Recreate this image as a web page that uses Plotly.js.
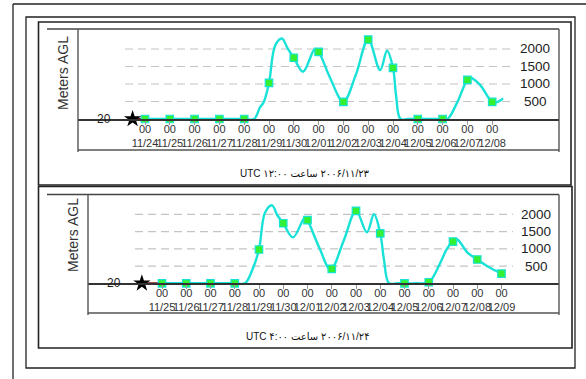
<!DOCTYPE html>
<html><head><meta charset="utf-8">
<script src="https://cdn.plot.ly/plotly-3.0.1.min.js"></script>
<style>html,body{margin:0;padding:0;background:#fff}#chart{width:586px;height:379px}</style>
</head><body><div id="chart"></div>
<script>
// x values: days after 2006-11-24 00 UTC
// Panel 1: run of 2006/11/23 12:00 UTC
const startDay1 = -0.5;
const markerDays1 = [0,1,2,3,4,5,6,7,8,9,10,11,12,13,14];
const markerHeights1 = [0,0,0,0,0,1030,1750,1920,490,2270,1460,0,0,1120,490];
const lineDays1 = [0,1,2,3,4,4.4,4.64,4.78,5,5.25,5.52,5.75,6,6.37,6.85,7,7.46,8,8.5,9,9.48,9.76,10,10.12,10.3,10.6,11,11.5,12,12.2,12.6,13,13.15,13.5,14,14.2,14.44];
const lineHeights1 = [0,0,0,0,0,0,340,470,1030,2100,2300,2020,1750,1350,2000,1920,1180,490,1260,2270,1400,1950,1460,700,0,0,0,0,0,0,490,1120,1170,980,490,480,590];
const dateLabels1 = ['11/24','11/25','11/26','11/27','11/28','11/29','11/30','12/01','12/02','12/03','12/04','12/05','12/06','12/07','12/08'];
const caption1 = '۲۰۰۶/۱۱/۲۳ ساعت ۱۲:۰۰ UTC';

// Panel 2: run of 2006/11/24 04:00 UTC
const startDay2 = 0.17;
const markerDays2 = [1,2,3,4,5,6,7,8,9,10,11,12,13,14,15];
const markerHeights2 = [0,0,0,0,980,1740,1830,420,2100,1450,0,30,1210,690,280];
const lineDays2 = [1,2,3,4,4.42,4.71,5,5.25,5.54,5.75,6,6.4,6.9,7,7.5,7.95,8.5,9,9.45,9.74,10,10.15,10.36,10.7,11,11.5,12,12.46,12.75,13,13.17,13.6,14,14.45,15];
const lineHeights2 = [0,0,0,0,0,365,980,2050,2260,1980,1740,1330,1920,1830,1010,400,1250,2100,1480,2000,1450,700,0,0,0,0,30,570,1000,1210,1270,890,690,480,280];
const dateLabels2 = ['11/25','11/26','11/27','11/28','11/29','11/30','12/01','12/02','12/03','12/04','12/05','12/06','12/07','12/08','12/09'];
const caption2 = '۲۰۰۶/۱۱/۲۴ ساعت ۴:۰۰ UTC';

const yTickVals = [500,1000,1500,2000];
const baseLabel = '20';
const yTitle = 'Meters AGL';

// ---------- layout helpers ----------
const W = 586, H = 379;
const px = x => x / W;
const py = y => 1 - y / H;
const FONT = 'Liberation Sans, Arial, DejaVu Sans, sans-serif';
const LINE = '#18e2d8';

function panelTraces(xa, ya, startDay, mDays, mH, lDays, lH) {
  return [
    {x:[startDay, mDays[0]], y:[0, mH[0]], xaxis:xa, yaxis:ya, mode:'lines',
     line:{color:'#7a1414', width:2}, hoverinfo:'skip', showlegend:false},
    {x:lDays, y:lH, xaxis:xa, yaxis:ya, mode:'lines',
     line:{color:LINE, width:2.4, shape:'spline', smoothing:1}, showlegend:false},
    {x:mDays, y:mH, xaxis:xa, yaxis:ya, mode:'markers', cliponaxis:false,
     marker:{symbol:'square', size:7.5, color:'#33f033', line:{color:LINE, width:1.2}}, showlegend:false},
    {x:[startDay], y:[0], xaxis:xa, yaxis:ya, mode:'markers', cliponaxis:false,
     marker:{symbol:'star', size:13, color:'#000'}, showlegend:false}
  ];
}

const data = [].concat(
  panelTraces('x','y', startDay1, markerDays1, markerHeights1, lineDays1, lineHeights1),
  panelTraces('x2','y2', startDay2, markerDays2, markerHeights2, lineDays2, lineHeights2)
);

function xAxis(domL, domR, zeroDay, pxPerDay, firstPx, days, labels, anchor) {
  const r0 = zeroDay + (domL - firstPx) / pxPerDay;
  const r1 = zeroDay + (domR - firstPx) / pxPerDay;
  return {domain:[px(domL), px(domR)], range:[r0, r1], anchor:anchor,
    tickvals:days, ticktext:labels.map(d => '00<br>' + d), tickangle:0,
    ticks:'outside', ticklen:4, tickcolor:'#999', tickwidth:1, ticklabelstandoff:-5,
    showline:true, linecolor:'#333', linewidth:1.5, showgrid:false, zeroline:false,
    tickfont:{family:FONT, size:11, color:'#333'}, fixedrange:true};
}
function yAxis(top, zero, pxPerUnit, anchor) {
  return {domain:[py(zero), py(top)], range:[0, (zero - top) * pxPerUnit], anchor:anchor,
    showticklabels:false, showgrid:false, zeroline:false, showline:false, ticks:'', fixedrange:true};
}

const shapes = [];
function hline(x0, x1, y, color, width, dash) {
  shapes.push({type:'line', xref:'paper', yref:'paper', x0:px(x0), x1:px(x1), y0:py(y), y1:py(y),
    line:{color:color, width:width, dash:dash||'solid'}, layer:'above'});
}
function vline(x, y0, y1, color, width) {
  shapes.push({type:'line', xref:'paper', yref:'paper', x0:px(x), x1:px(x), y0:py(y0), y1:py(y1),
    line:{color:color, width:width}, layer:'above'});
}
function rect(x0, y0, x1, y1, color, width) {
  shapes.push({type:'rect', xref:'paper', yref:'paper', x0:px(x0), x1:px(x1), y0:py(y0), y1:py(y1),
    line:{color:color, width:width}, fillcolor:'rgba(0,0,0,0)', layer:'above'});
}
// outer frames
hline(13, 586, 4, '#222', 1.3);
vline(13, 4, 379, '#222', 1.3);
rect(26, 17, 575, 368, '#222', 1.3);
rect(38.5, 22, 571, 185, '#222', 1.6);
rect(38.5, 186.5, 572, 348, '#222', 1.6);
// panel 1 plot frame
hline(47, 559, 29, '#444', 1.4);
vline(78, 29, 152, '#555', 1.4);
vline(559, 29, 152, '#555', 1.4);
hline(78, 559, 150, '#555', 1.4);
// panel 2 plot frame
hline(47, 559, 194.5, '#444', 1.4);
vline(88, 194.5, 315, '#555', 1.4);
vline(559, 194.5, 315, '#555', 1.4);
hline(88, 559, 313, '#555', 1.4);

// dashed gridlines at y tick values
function grids(yref, x0, x1) {
  yTickVals.forEach(v => shapes.push({type:'line', xref:'paper', yref:yref, x0:px(x0), x1:px(x1), y0:v, y1:v,
    line:{color:'#c4c4c4', width:1.2, dash:'8px,5px'}, layer:'below'}));
}
grids('y', 125, 513);
grids('y2', 135, 513);

const annotations = [];
function yLabels(yref, xRight, xBase) {
  yTickVals.forEach(v => annotations.push({xref:'paper', yref:yref, x:px(xRight), y:v, text:String(v),
    showarrow:false, xanchor:'center', yanchor:'middle', font:{family:FONT, size:13.5, color:'#222'}}));
  annotations.push({xref:'paper', yref:yref, x:px(xBase), y:0, text:baseLabel, showarrow:false,
    xanchor:'center', yanchor:'middle', font:{family:FONT, size:12, color:'#222'}});
}
yLabels('y', 535, 103.5);
yLabels('y2', 536, 113.5);
annotations.push({xref:'paper', yref:'paper', x:px(63), y:py(73), text:yTitle, textangle:-90, showarrow:false,
  xanchor:'center', yanchor:'middle', font:{family:FONT, size:14, color:'#333'}});
annotations.push({xref:'paper', yref:'paper', x:px(73), y:py(235), text:yTitle, textangle:-90, showarrow:false,
  xanchor:'center', yanchor:'middle', font:{family:FONT, size:14, color:'#333'}});
annotations.push({xref:'paper', yref:'paper', x:px(305), y:py(173), text:'\u202B' + caption1 + '\u202C', showarrow:false,
  xanchor:'center', yanchor:'middle', font:{family:'Liberation Sans, DejaVu Sans, sans-serif', size:10, color:'#111'}});
annotations.push({xref:'paper', yref:'paper', x:px(308), y:py(336), text:'\u202B' + caption2 + '\u202C', showarrow:false,
  xanchor:'center', yanchor:'middle', font:{family:'Liberation Sans, DejaVu Sans, sans-serif', size:10, color:'#111'}});

const layout = {
  width:W, height:H, margin:{l:0, r:0, t:0, b:0},
  paper_bgcolor:'#fff', plot_bgcolor:'rgba(0,0,0,0)', showlegend:false,
  xaxis: xAxis(78, 559, 0, 24.8, 145, markerDays1, dateLabels1, 'y'),
  yaxis: yAxis(29, 119, 2000/70, 'x'),
  xaxis2: xAxis(88, 559, 1, 24.25, 162, markerDays2, dateLabels2, 'y2'),
  yaxis2: yAxis(194.5, 283.3, 2000/69, 'x2'),
  shapes: shapes, annotations: annotations
};

Plotly.newPlot('chart', data, layout, {displayModeBar:false, staticPlot:true});
</script></body></html>
